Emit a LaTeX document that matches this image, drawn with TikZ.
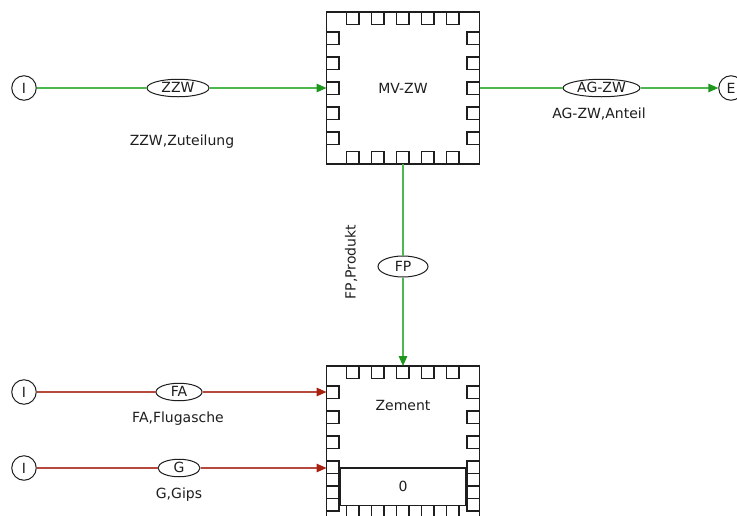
\documentclass[tikz,border=0pt]{standalone}
\usepackage{fontspec}
\setmainfont{DejaVu Sans}
\usetikzlibrary{arrows.meta,positioning,calc,shapes.geometric}
\definecolor{flowgreen}{HTML}{4DB84D}
\definecolor{tipgreen}{HTML}{1E961E}
\definecolor{flowred}{HTML}{B5493E}
\definecolor{tipred}{HTML}{A8200F}
\definecolor{ink}{HTML}{1E1E1E}
\tikzset{
  module/.style={draw=ink,line width=1.6pt,minimum width=153pt,minimum height=152pt,
    inner sep=0pt,outer sep=0pt},
  port/.style={draw=ink,line width=1.3pt},
  valbox/.style={draw=ink,line width=1.3pt,minimum width=126pt,minimum height=37.5pt,
    inner sep=0pt,outer sep=0pt},
  term/.style={draw=ink,circle,line width=1pt,minimum size=24.5pt,inner sep=0pt},
  tag/.style={draw=ink,ellipse,line width=1pt,fill=white,minimum height=17.5pt,
    inner sep=0pt,text height=9.8pt,text depth=0pt},
  caption/.style={inner sep=0pt,text height=10pt,text depth=3pt},
  greenflow/.style={draw=flowgreen,line width=1.5pt},
  redflow/.style={draw=flowred,line width=1.5pt},
  greenarrow/.style={greenflow,-{Triangle[length=10pt,width=8.5pt,color=tipgreen]}},
  redarrow/.style={redflow,-{Triangle[length=10pt,width=8.5pt,color=tipred]}}
}

\begin{document}
\begin{tikzpicture}[x=1pt,y=-1pt,font=\fontsize{14}{16}\selectfont,text=ink]
        \path[use as bounding box,fill=white] (0,0) rectangle (737,515);
        \node[module] (mvzw) at (403,88) {MV-ZW};
        \node[module] (zem) at (403,442) {};
        \node (zemname) at (403,405) {Zement};
        \node[valbox,anchor=south] (zemval) at ($(zem.south)+(0,-12.5)$) {0};
        \foreach \k in {0,...,4} {
          \draw[port] ($(mvzw.north west)+(20+25*\k,0)$) rectangle ++(12.5,12.5);
          \draw[port] ($(mvzw.south west)+(20+25*\k,0)$) rectangle ++(12.5,-12.5);
          \draw[port] ($(mvzw.north west)+(0,20+25*\k)$) rectangle ++(12.5,12.5);
          \draw[port] ($(mvzw.north east)+(0,20+25*\k)$) rectangle ++(-12.5,12.5);
          \draw[port] ($(zem.north west)+(20+25*\k,0)$) rectangle ++(12.5,12.5);
          \draw[port] ($(zem.south west)+(20+25*\k,0)$) rectangle ++(12.5,-12.5);
        }
        \foreach \d in {20,45,70,95,107.5,120,132.5} {
          \draw[port] ($(zem.north west)+(0,\d)$) rectangle ++(12.5,12.5);
          \draw[port] ($(zem.north east)+(0,\d)$) rectangle ++(-12.5,12.5);
        }
        \node[term] (in1) at (24,88) {I};
        \node[term] (in2) at (24,392) {I};
        \node[term] (in3) at (24,468) {I};
        \node[term] (out1) at (731,88) {E};
        \node[tag,minimum width=62pt] (zzw) at (178,88) {ZZW};
        \node[tag,minimum width=77pt] (agzw) at (601.5,88) {AG-ZW};
        \node[tag,minimum width=50pt,minimum height=21pt] (fp) at (403,266.5) {FP};
        \node[tag,minimum width=46pt] (fa) at (179,392) {FA};
        \node[tag,minimum width=42pt] (g) at (179,468) {G};
        \node[caption,below=38pt of zzw,xshift=4pt] (zzwlbl) {ZZW,Zuteilung};
        \node[caption,below=11pt of agzw,xshift=-2.5pt] (agzwlbl) {AG-ZW,Anteil};
        \node[caption,below=11.5pt of fa,xshift=-1pt] (falbl) {FA,Flugasche};
        \node[caption,below=11pt of g] (glbl) {G,Gips};
        \node[caption,rotate=90] (fplbl) at (352,262) {FP,Produkt};
        \draw[greenflow] (in1) -- (zzw);
        \draw[greenarrow] (zzw) -- (mvzw);
        \draw[greenflow] (mvzw) -- (agzw);
        \draw[greenarrow] (agzw) -- (out1);
        \draw[greenflow] (mvzw) -- (fp);
        \draw[greenarrow] (fp) -- (zem);
        \draw[redflow] (in2) -- (fa);
        \draw[redarrow] (fa) -- (fa -| zem.west);
        \draw[redflow] (in3) -- (g);
        \draw[redarrow] (g) -- (g -| zem.west);
      \end{tikzpicture}
\end{document}
